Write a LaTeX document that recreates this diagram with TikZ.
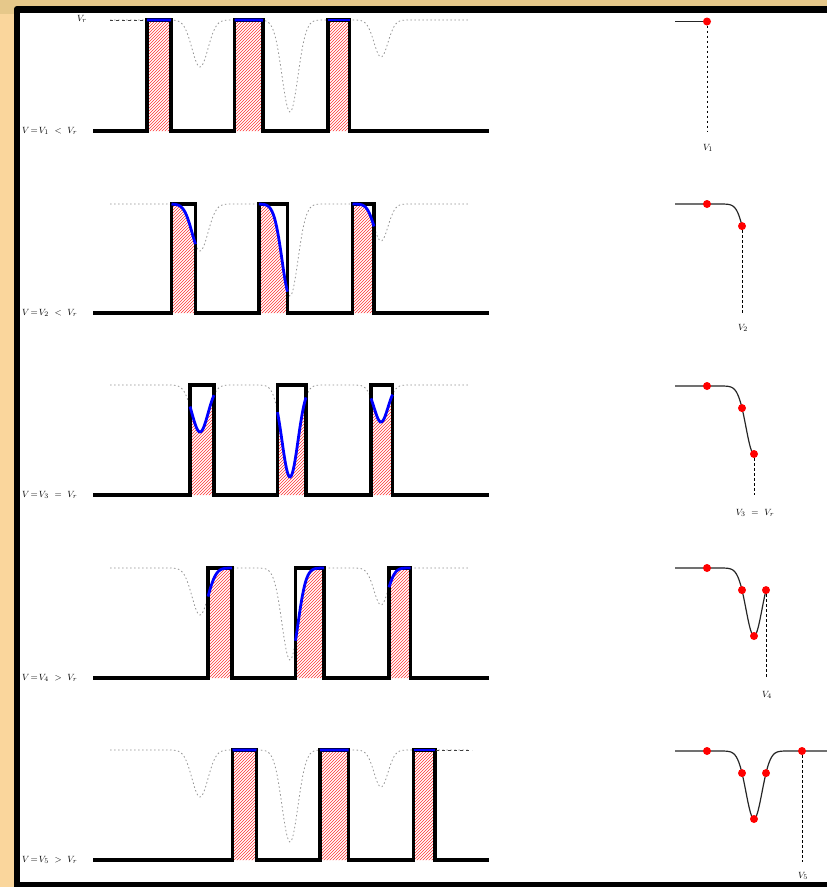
\documentclass[tikz,border=0pt]{standalone}
\usetikzlibrary{patterns}
\definecolor{frametop}{HTML}{E6C88A}
\definecolor{frameleft}{HTML}{FAD69C}
\begin{document}
\begin{tikzpicture}[x=1pt,y=-1pt,
  declare function={
    dip(\t)=47*exp(-min(((\t-200)/8)^2/2,20))+92*exp(-min(((\t-290)/8)^2/2,20))+37*exp(-min(((\t-381)/7)^2/2,20));
    resp(\t)=68*exp(-min(((\t-754)/8)^2/2,20));
  },
  spec/.style={gray!85, line width=0.8pt, dash pattern=on 1.5pt off 2.5pt},
  specdark/.style={black!75, line width=0.9pt, dash pattern=on 3pt off 3pt},
  outline/.style={line width=3.2pt, line join=miter},
  hatch/.style={pattern=north east lines, pattern color=red!80},
  bluecurve/.style={blue, line width=2.8pt},
  resline/.style={black!85, line width=1.2pt},
  reddot/.style={circle, fill=red, inner sep=0pt, minimum size=8pt},
  vdash/.style={black, line width=1pt, dash pattern=on 2.5pt off 2.5pt},
  lab/.style={inner sep=0pt, font=\fontsize{9.5}{11}\selectfont}
]
\useasboundingbox (0,0) rectangle (827,887);
% frame
\fill[frametop] (0,0) rectangle (827,887);
\fill[frameleft] (0,14) rectangle (14,887);
\fill[black, rounded corners=3pt] (14,6) rectangle (845,895);
\fill[white] (20,13) rectangle (827,882);

\node[lab] (vr) at (82,19) {$V_r$};

% rows: top / base / first window left edge / index / relation / right-curve top / end x
\foreach \T/\B/\a/\i/\rel/\RT/\E in {
    20/131/147/1/{<}/21.5/707,
    204/313/171.5/2/{<}/204/742,
    385/495/190/3/{=}/386/754,
    568/678/208/4/{>}/568/766,
    750/860/232.5/5/{>}/751/827}{
  % spectrum (dotted)
  \draw[spec] plot[domain=110:468, samples=300] (\x,{\T+dip(\x)});
  % windows
  \foreach \o/\w [evaluate=\o as \l using \a+\o, evaluate=\w as \r using \a+\o+\w] in {0/24, 87.5/28.5, 181/21.5}{
    \fill[white] (\l,\T) rectangle (\r,\B);
    \fill[hatch] (\l,\B) -- plot[domain=\l:\r, samples=30] (\x,{\T+dip(\x)}) -- (\r,\B) -- cycle;
  }
  \draw[outline] (93,\B) -- (\a,\B) -- (\a,\T) -- ({\a+24},\T) -- ({\a+24},\B)
     -- ({\a+87.5},\B) -- ({\a+87.5},\T) -- ({\a+116},\T) -- ({\a+116},\B)
     -- ({\a+181},\B) -- ({\a+181},\T) -- ({\a+202.5},\T) -- ({\a+202.5},\B) -- (489,\B);
  \foreach \o/\w [evaluate=\o as \l using \a+\o, evaluate=\w as \r using \a+\o+\w] in {0/24, 87.5/28.5, 181/21.5}{
    \draw[bluecurve] plot[domain=\l:\r, samples=30] (\x,{\T+dip(\x)});
  }
  % left label
  \node[lab, anchor=west] (lab\i) at (22,\B) {$V\!=\!V_{\i}\ \rel\ V_r$};
  % response curve
  \draw[resline] plot[domain=675:\E, samples=120] (\x,{\RT+resp(\x)});
}
% dark dashed pieces of the level line
\draw[specdark] (110,20) -- (146,20);
\draw[specdark] (436,750) -- (472,750);

% dots and markers
\node[reddot] (d11) at (707,21.5) {};
\coordinate (e1) at (707,132);
\draw[vdash] (d11) -- (e1);
\node[lab] (v1) at (708,148) {$V_1$};

\node[reddot] (d21) at (707,204) {};
\node[reddot] (d22) at (742,{204+resp(742)}) {};
\coordinate (e2) at (742,313);
\draw[vdash] (d22) -- (e2);
\node[lab] (v2) at (743,328) {$V_2$};

\node[reddot] (d31) at (707,386) {};
\node[reddot] (d32) at (742,{386+resp(742)}) {};
\node[reddot] (d33) at (754,454) {};
\coordinate (e3) at (754,495);
\draw[vdash] (d33) -- (e3);
\node[lab] (v3) at (755,513) {$V_3\ =\ V_r$};

\node[reddot] (d41) at (707,568) {};
\node[reddot] (d42) at (742,{568+resp(742)}) {};
\node[reddot] (d43) at (754,636) {};
\node[reddot] (d44) at (766,{568+resp(766)}) {};
\coordinate (e4) at (766,678);
\draw[vdash] (d44) -- (e4);
\node[lab] (v4) at (767,695) {$V_4$};

\node[reddot] (d51) at (707,751) {};
\node[reddot] (d52) at (742,{751+resp(742)}) {};
\node[reddot] (d53) at (754,819) {};
\node[reddot] (d54) at (766,{751+resp(766)}) {};
\node[reddot] (d55) at (802,751) {};
\coordinate (e5) at (802,862);
\draw[vdash] (d55) -- (e5);
\node[lab] (v5) at (803,876) {$V_5$};
\end{tikzpicture}
\end{document}
